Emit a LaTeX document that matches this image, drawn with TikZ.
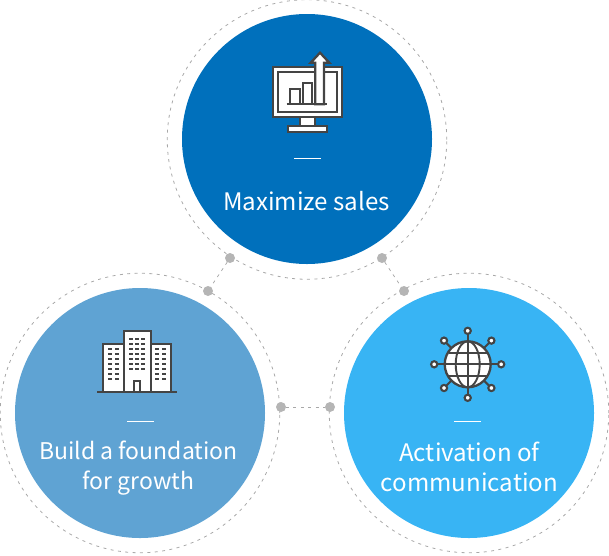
\documentclass[tikz,border=0pt]{standalone}
\usepackage{fontspec}
\setmainfont{Noto Sans CJK KR}
\definecolor{topblue}{HTML}{0070BC}
\definecolor{leftblue}{HTML}{5FA3D3}
\definecolor{rightblue}{HTML}{38B4F4}
\definecolor{dotgray}{HTML}{B5B5B5}
\definecolor{dashgray}{HTML}{A8A8A8}
\definecolor{icondark}{HTML}{444444}
\tikzset{
  disc/.style={circle,minimum size=250pt,inner sep=0pt,outer sep=0pt},
  ring/.style={circle,draw=dashgray,line width=.8pt,dash pattern=on 3pt off 4.4pt,minimum size=279.5pt,inner sep=0pt,outer sep=0pt},
  joint/.style={circle,fill=dotgray,minimum size=10pt,inner sep=0pt,outer sep=0pt},
  link/.style={draw=dashgray,line width=.8pt,dash pattern=on 3pt off 4.4pt},
  rule/.style={white,line width=1pt},
  label/.style={white,font=\fontsize{24.1}{30}\selectfont,align=center,inner sep=0pt},
  ico/.style={draw=icondark,line width=2.3pt,fill=white,line join=miter},
  icol/.style={draw=icondark,line width=2.3pt},
  win/.style={fill=icondark,draw=none,minimum width=4pt,minimum height=2pt,inner sep=0pt},
}
\begin{document}
\begin{tikzpicture}[x=1pt,y=-1pt]
\useasboundingbox (0,0) rectangle (609,555);
% rings and discs
\node[ring] (rt) at (307,139.5) {};
\node[ring] (rl) at (140,413) {};
\node[ring] (rr) at (469,413) {};
\node[disc,fill=topblue] (dt) at (307,139) {};
\node[disc,fill=leftblue] (dl) at (140,413) {};
\node[disc,fill=rightblue] (dr) at (469,413) {};
% joints and links
\node[joint] (j1) at (230,258) {};
\node[joint] (j2) at (208,291) {};
\node[joint] (j3) at (382,258) {};
\node[joint] (j4) at (404,291) {};
\node[joint] (j5) at (281,407) {};
\node[joint] (j6) at (330,407) {};
\draw[link] (j1) -- (j2);
\draw[link] (j3) -- (j4);
\draw[link] (j5) -- (j6);
% monitor icon
\draw[ico] (272.7,66.7) rectangle (342.3,117.3);
\draw[ico] (278.3,72.3) rectangle (336.7,111.7);
\draw[ico] (300,117.3) rectangle (315,126);
\draw[ico] (288.3,126) rectangle (326.7,132.3);
\draw[ico] (290,104.3) rectangle (300,89.3);
\draw[ico] (302.7,104.3) rectangle (312.3,82.7);
\draw[ico] (315.3,104.3) -- (315.3,62.7) -- (310.7,62.7) -- (320,52.7) -- (329.3,62.7) -- (324,62.7) -- (324,104.3) -- cycle;
\draw[icol] (286.7,104.3) -- (327.3,104.3);
% buildings icon
\draw[ico] (102.7,391.7) rectangle (123.7,344);
\draw[ico] (150.7,391.7) rectangle (171.3,344);
\draw[ico] (123.7,391.7) rectangle (150.7,331);
\draw[ico] (133.7,391.7) rectangle (140.3,381);
\draw[icol] (97.3,391.7) -- (176.7,391.7);
\foreach \c in {131,137,143}
  \foreach \r in {339,343.7,348.7,353.7,358.7,363.7,369}
    \node[win] at (\c,\r) {};
\foreach \c in {109.7,117,157,164.3}
  \foreach \r in {349,353.7,358.7,363.7,369,374,379.3}
    \node[win] at (\c,\r) {};
% globe icon
\coordinate (g) at (467.7,364.3);
\foreach \a in {0,45,...,315}{
  \draw[icol,line width=2pt] (g) -- +(\a:33.5);
  \draw[draw=icondark,line width=2.1pt,fill=white] (g) ++(\a:33.5) circle (3.1);
}
\draw[ico] (g) circle (23);
\draw[icol,line width=1.9pt] (g) ellipse (12 and 23);
\draw[icol,line width=1.9pt] (444.7,364.3) -- (490.7,364.3);
\draw[icol,line width=1.9pt] (467.7,341.3) -- (467.7,387.3);
\draw[icol,line width=1.9pt] (448.5,352.6) -- (486.9,352.6);
\draw[icol,line width=1.9pt] (448.5,376) -- (486.9,376);
% rules
\coordinate (ta) at (294,158.3); \coordinate (tb) at (321,158.3);
\coordinate (la) at (127,421.3); \coordinate (lb) at (154,421.3);
\coordinate (ra) at (454,421.3); \coordinate (rb) at (481,421.3);
\draw[rule] (ta) -- (tb);
\draw[rule] (la) -- (lb);
\draw[rule] (ra) -- (rb);
% labels
\node[label] (t1) at (306.5,201) {Maximize sales};
\node[label,font=\fontsize{23}{30}\selectfont] (t2) at (138.5,468) {Build a foundation\\for growth};
\node[label] (t3) at (469.5,467) {Activation of\\communication};
\end{tikzpicture}
\end{document}
